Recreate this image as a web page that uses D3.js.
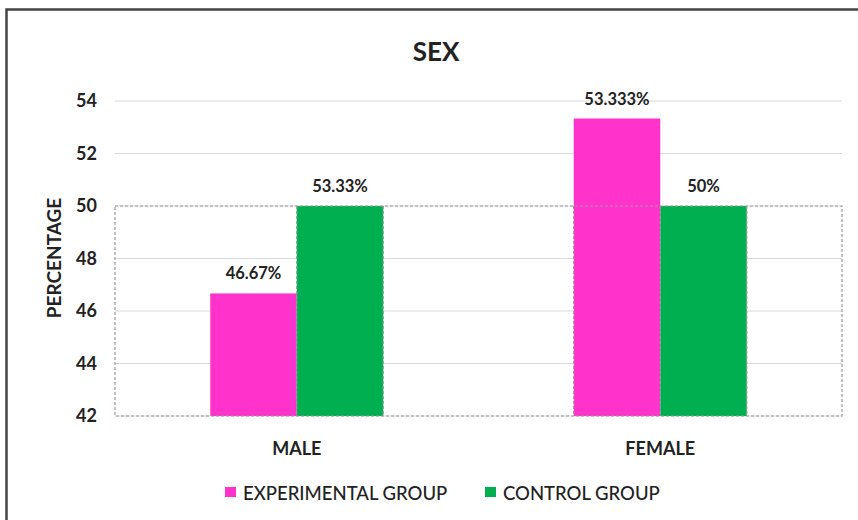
<!DOCTYPE html>
<html>
<head>
<meta charset="utf-8">
<script src="https://cdn.jsdelivr.net/npm/d3@7"></script>
<style>
  body { margin: 0; background: #fff; }
  text { font-family: Lato, "Open Sans", sans-serif; fill: #222; }
</style>
</head>
<body>
<div id="chart"></div>
<script>
// data
var categories = ["MALE", "FEMALE"];
var seriesNames = ["EXPERIMENTAL GROUP", "CONTROL GROUP"];
var experimental = [46.67, 53.333];
var control = [50, 50];
var experimentalLabels = ["46.67%", "53.333%"];
var controlLabels = ["53.33%", "50%"];
var yTicks = [42, 44, 46, 48, 50, 52, 54];

var colors = ["#ff33cc", "#00b050"];

var width = 858, height = 520;
var margin = {top: 101, right: 16, bottom: 104, left: 115};

var svg = d3.select("#chart").append("svg")
    .attr("width", width)
    .attr("height", height);

// outer chart frame (runs off the right / bottom of the picture)
svg.append("rect")
    .attr("x", 6.5).attr("y", 9.5)
    .attr("width", 900).attr("height", 600)
    .attr("fill", "none")
    .attr("stroke", "#444")
    .attr("stroke-width", 2.5);

var plotW = width - margin.left - margin.right,
    plotH = height - margin.top - margin.bottom;

var g = svg.append("g").attr("transform", "translate(" + margin.left + "," + margin.top + ")");

var x0 = d3.scaleBand().domain(categories).range([0, plotW]).paddingInner(0).paddingOuter(0);
var x1 = d3.scaleBand().domain(seriesNames).range([x0.bandwidth() * 0.262, x0.bandwidth() * 0.738]);
var y = d3.scaleLinear().domain([42, 54]).range([plotH, 0]);

// gridlines
g.append("g").selectAll("line")
    .data(yTicks)
    .enter().append("line")
    .attr("x1", 0).attr("x2", plotW)
    .attr("y1", function(d) { return y(d); })
    .attr("y2", function(d) { return y(d); })
    .attr("stroke", "#d9d9d9")
    .attr("stroke-width", 1);

// y tick labels
var yAxis = g.append("g")
    .call(d3.axisLeft(y).tickValues(yTicks).tickSize(0).tickPadding(18));
yAxis.select(".domain").remove();
yAxis.selectAll("text")
    .style("font-family", "Lato, sans-serif")
    .style("font-size", "18px")
    .style("font-weight", "bold")
    .attr("fill", "#222");

var rows = categories.map(function(c, i) {
  return {cat: c, vals: [
    {s: seriesNames[0], v: experimental[i], label: experimentalLabels[i], c: colors[0]},
    {s: seriesNames[1], v: control[i], label: controlLabels[i], c: colors[1]}
  ]};
});

var groups = g.selectAll(".grp")
    .data(rows)
    .enter().append("g")
    .attr("class", "grp")
    .attr("transform", function(d) { return "translate(" + x0(d.cat) + ",0)"; });

groups.selectAll("rect")
    .data(function(d) { return d.vals; })
    .enter().append("rect")
    .attr("x", function(d) { return x1(d.s); })
    .attr("width", x1.bandwidth())
    .attr("y", function(d) { return y(d.v); })
    .attr("height", function(d) { return plotH - y(d.v); })
    .attr("fill", function(d) { return d.c; });

// the dashed box around the 42-50 band (as in the original picture)
var dash = g.append("g")
    .attr("fill", "none")
    .attr("stroke", "#999")
    .attr("stroke-width", 1.2)
    .attr("stroke-dasharray", "3,2");
dash.append("rect")
    .attr("x", 0).attr("y", y(50))
    .attr("width", plotW).attr("height", plotH - y(50));
categories.forEach(function(c, i) {
  var edges = i == 0
      ? [x1(seriesNames[1]), x1(seriesNames[1]) + x1.bandwidth()]
      : [x1(seriesNames[0]), x1(seriesNames[1]), x1(seriesNames[1]) + x1.bandwidth()];
  edges.forEach(function(e) {
    dash.append("line")
        .attr("x1", x0(c) + e).attr("x2", x0(c) + e)
        .attr("y1", y(50)).attr("y2", plotH);
  });
});

// value labels
groups.selectAll(".val")
    .data(function(d) { return d.vals; })
    .enter().append("text")
    .attr("class", "val")
    .attr("x", function(d) { return x1(d.s) + x1.bandwidth() / 2; })
    .attr("y", function(d) { return y(d.v) - 14; })
    .attr("text-anchor", "middle")
    .style("font-size", "16.5px")
    .style("font-weight", "bold")
    .text(function(d) { return d.label; });

// category labels
g.selectAll(".cat")
    .data(categories)
    .enter().append("text")
    .attr("class", "cat")
    .attr("x", function(d) { return x0(d) + x0.bandwidth() / 2; })
    .attr("y", plotH + 39)
    .attr("text-anchor", "middle")
    .style("font-size", "18px")
    .style("font-weight", "bold")
    .text(function(d) { return d; });

// title
svg.append("text")
    .attr("x", 436).attr("y", 61)
    .attr("text-anchor", "middle")
    .style("font-size", "26px")
    .style("font-weight", "bold")
    .text("SEX");

// y axis title
svg.append("text")
    .attr("transform", "translate(61,258) rotate(-90)")
    .attr("text-anchor", "middle")
    .style("font-size", "19px")
    .style("font-weight", "bold")
    .text("PERCENTAGE");

// legend
var legendX = [225, 485];
var legend = svg.selectAll(".leg")
    .data(seriesNames)
    .enter().append("g")
    .attr("class", "leg")
    .attr("transform", function(d, i) { return "translate(" + legendX[i] + ",487)"; });
legend.append("rect")
    .attr("width", 11).attr("height", 10)
    .attr("fill", function(d, i) { return colors[i]; });
legend.append("text")
    .attr("x", 18).attr("y", 13)
    .style("font-size", "18.5px")
    .style("font-weight", "500")
    .text(function(d) { return d; });
</script>
</body>
</html>
